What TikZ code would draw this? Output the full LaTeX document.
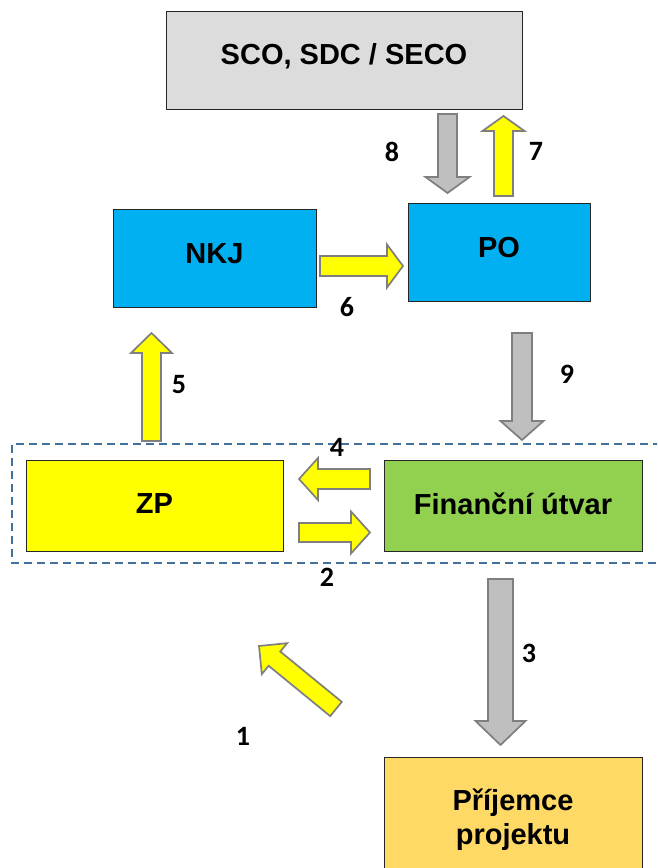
\documentclass[tikz,border=0pt]{standalone}
\usepackage{fontspec}
\setmainfont{Liberation Sans}
\newfontfamily\numfont{Carlito}
\definecolor{scogray}{HTML}{DCDCDC}
\definecolor{poblue}{HTML}{00B0F0}
\definecolor{zpyellow}{HTML}{FFFF00}
\definecolor{fingreen}{HTML}{92D050}
\definecolor{prijorange}{HTML}{FFD966}
\definecolor{arrowgray}{HTML}{BFBFBF}
\definecolor{arrowedge}{HTML}{7F7F7F}
\definecolor{dashblue}{HTML}{41719C}
\newcommand\blockarrow[9]{% name, fill, tail x, tail y, angle, length, shaft half, head half, head length
\begin{scope}[shift={(#3,#4)},rotate=#5]
\draw[arrowline,fill=#2] (0,-#7) -- ({#6-#9},-#7) -- ({#6-#9},-#8) -- (#6,0) -- ({#6-#9},#8) -- ({#6-#9},#7) -- (0,#7) -- cycle;
\coordinate (#1) at ({#6/2},0);
\end{scope}}
\begin{document}
\begin{tikzpicture}[x=1pt,y=-1pt,
  box/.style={draw=black!85,line width=1.2pt,inner sep=0pt,anchor=north west},
  boxtext/.style={font=\fontsize{29}{34}\selectfont\bfseries,align=center,inner sep=0pt},
  arrowline/.style={draw=arrowedge,line width=1.7pt,line join=miter},
  num/.style={font=\numfont\fontsize{28}{32}\selectfont\bfseries,inner sep=0pt}]
\useasboundingbox (0,0) rectangle (657,868);
\clip (0,0) rectangle (657,868);
% dashed group
\draw[dashblue,line width=2pt,dash pattern=on 8pt off 5pt] (700,444) -- (12,444) -- (12,563) -- (700,563);
% boxes
\node[box,fill=scogray,minimum width=356pt,minimum height=98pt] (sco) at (166,11) {};
\node[boxtext] (scot) at (344,56) {SCO, SDC / SECO};
\node[box,fill=poblue,minimum width=203pt,minimum height=98pt] (nkj) at (113,209) {};
\node[boxtext] (nkjt) at (214.5,254) {NKJ};
\node[box,fill=poblue,minimum width=182pt,minimum height=98pt] (po) at (408,203) {};
\node[boxtext] (pot) at (499,248) {PO};
\node[box,fill=zpyellow,minimum width=257pt,minimum height=91pt] (zp) at (26,460) {};
\node[boxtext] (zpt) at (154.5,504) {ZP};
\node[box,fill=fingreen,minimum width=258pt,minimum height=91pt] (fin) at (384,460) {};
\node[boxtext] (fint) at (513,504) {Finanční útvar};
\node[box,fill=prijorange,minimum width=258pt,minimum height=140pt] (prij) at (384,757) {};
\node[boxtext] (prijt) at (513,820) {Příjemce\\projektu};
% block arrows
\blockarrow{a8}{arrowgray}{447.5}{114}{-90}{79}{9.5}{22}{16}
\blockarrow{a7}{zpyellow}{503.5}{196}{90}{80}{9.5}{21}{15}
\blockarrow{a6}{zpyellow}{320}{266}{0}{83}{10}{21.5}{16}
\blockarrow{a5}{zpyellow}{151.5}{441}{90}{108}{9.5}{20.5}{20}
\blockarrow{a9}{arrowgray}{522}{333}{-90}{107}{10}{21.5}{19}
\blockarrow{a4}{zpyellow}{370}{479}{180}{71}{10}{21}{19}
\blockarrow{a2}{zpyellow}{299}{532.5}{0}{71}{9.5}{21}{19}
\blockarrow{a3}{arrowgray}{500.5}{579}{-90}{166}{12.5}{25}{24}
\blockarrow{a1}{zpyellow}{336}{709}{140.7}{99.5}{9.2}{20}{20}
% labels
\node[num] (l8) at (392,152) {8};
\node[num] (l7) at (536,151) {7};
\node[num] (l6) at (347,307) {6};
\node[num] (l5) at (179,385) {5};
\node[num] (l9) at (567,374) {9};
\node[num] (l4) at (337,447) {4};
\node[num] (l2) at (327,577) {2};
\node[num] (l3) at (529,653) {3};
\node[num] (l1) at (243,736) {1};
\end{tikzpicture}
\end{document}
